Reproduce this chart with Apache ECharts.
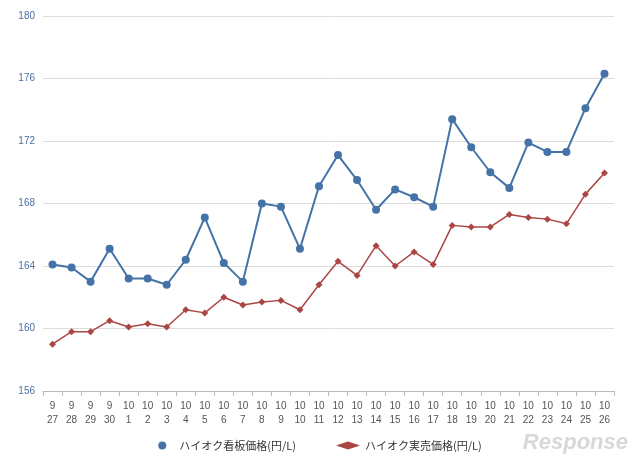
<!DOCTYPE html>
<html>
<head>
<meta charset="utf-8">
<script src="https://cdn.jsdelivr.net/npm/echarts@6/dist/echarts.min.js"></script>
<style>html,body{margin:0;padding:0;background:#fff}#main{width:640px;height:466px}</style>
</head>
<body>
<div id="main"></div>
<script>
var months = ['9','9','9','9','10','10','10','10','10','10','10','10','10','10','10','10','10','10','10','10','10','10','10','10','10','10','10','10','10','10'];
var days = ['27','28','29','30','1','2','3','4','5','6','7','8','9','10','11','12','13','14','15','16','17','18','19','20','21','22','23','24','25','26'];
var listPrice = [164.1,163.9,163.0,165.1,163.2,163.2,162.8,164.4,167.1,164.2,163.0,168.0,167.8,165.1,169.1,171.1,169.5,167.6,168.9,168.4,167.8,173.4,171.6,170.0,169.0,171.9,171.3,171.3,174.1,176.3];
var realPrice = [159.0,159.8,159.8,160.5,160.1,160.3,160.1,161.2,161.0,162.0,161.5,161.7,161.8,161.2,162.8,164.3,163.4,165.3,164.0,164.9,164.1,166.6,166.5,166.5,167.3,167.1,167.0,166.7,168.6,169.95];

var categories = months.map(function (m, i) { return m + '\n' + days[i]; });

var myChart = echarts.init(document.getElementById('main'));
var option = {
    animation: false,
    grid: { left: 43, right: 26, top: 16, bottom: 75 },
    legend: {
        bottom: 10,
        itemGap: 40,
        textStyle: { color: '#333', fontSize: 11, fontFamily: 'Noto Sans CJK JP' },
        data: [
            { name: 'ハイオク看板価格(円/L)', icon: 'circle' },
            { name: 'ハイオク実売価格(円/L)', icon: 'diamond' }
        ],
        itemWidth: 24, itemHeight: 8
    },
    graphic: [{
        type: 'text', right: 12, bottom: 12,
        style: { text: 'Response', fill: '#d8d8d8', font: 'italic bold 22px Arial' }
    }],
    xAxis: {
        type: 'category',
        data: categories,
        boundaryGap: true,
        axisLine: { lineStyle: { color: '#bbb' } },
        axisTick: { show: true, lineStyle: { color: '#bbb' } },
        axisLabel: { color: '#555', fontSize: 10, interval: 0, lineHeight: 14 }
    },
    yAxis: {
        type: 'value',
        min: 156, max: 180, interval: 4,
        axisLine: { show: false },
        axisTick: { show: false },
        axisLabel: { color: '#4a6fa5', fontSize: 10 },
        splitLine: { lineStyle: { color: '#ddd', width: 1 } }
    },
    series: [
        {
            name: 'ハイオク看板価格(円/L)', type: 'line', data: listPrice,
            symbol: 'circle', symbolSize: 8,
            itemStyle: { color: '#4572a7' }, lineStyle: { color: '#4572a7', width: 2 }
        },
        {
            name: 'ハイオク実売価格(円/L)', type: 'line', data: realPrice,
            symbol: 'diamond', symbolSize: 7,
            itemStyle: { color: '#aa4643' }, lineStyle: { color: '#aa4643', width: 1.5 }
        }
    ]
};
myChart.setOption(option);
</script>
</body>
</html>
